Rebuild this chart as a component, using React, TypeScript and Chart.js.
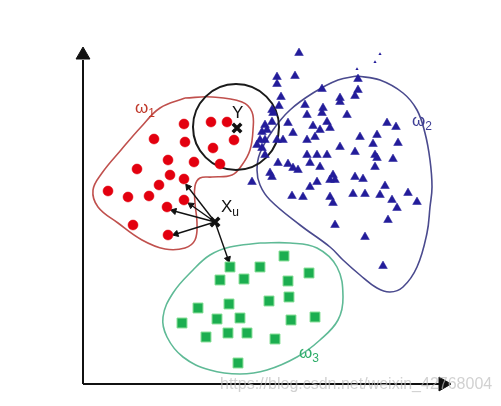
import React, { useEffect, useRef } from 'react';
import { Chart, registerables } from 'chart.js';
Chart.register(...registerables);

// ---- data (diagram coordinates) ----
const redPoints: number[][] = [
  [184,124],[211,122],[227,122],[154,139],[185,142],[234,140],[213,148],[168,160],[194,162],[220,164],
  [137,169],[170,175],[184,179],[159,185],[108,191],[128,197],[149,196],[184,200],[167,207],[133,225],[168,235],
];
const bluePoints: number[][] = [
  [299,53],[277,77],[295,76],[277,84],[322,89],[340,98],[355,96],[358,79],[358,90],[281,97],[279,106],[305,105],
  [323,108],[340,102],[273,113],[288,123],[307,115],[322,113],[327,122],[347,115],[387,123],[396,127],[313,126],
  [320,130],[330,128],[272,122],[267,130],[265,140],[277,140],[283,140],[293,133],[307,140],[315,137],[340,147],
  [360,137],[377,135],[398,143],[355,152],[373,144],[307,155],[317,155],[327,155],[375,155],[377,158],[393,159],
  [278,163],[288,164],[293,168],[298,170],[310,163],[320,167],[375,167],[270,173],[272,177],[252,182],[333,175],
  [335,180],[330,180],[355,177],[363,179],[310,187],[317,182],[385,186],[292,196],[303,197],[330,197],[333,203],
  [353,194],[365,194],[380,195],[392,200],[408,193],[417,202],[397,208],[388,220],[335,225],[365,237],[383,266],
  [260,140],[262,148],[262,132],[257,145],[265,155],[272,110],[265,125],
];
const blueSpecks: number[][] = [[380,54],[375,62],[357,69]];
const greenPoints: number[][] = [
  [230,267],[260,267],[284,256],[309,273],[220,280],[244,279],[288,281],[289,297],[269,301],[229,304],[198,308],
  [182,323],[217,319],[240,318],[291,320],[315,317],[206,337],[228,333],[247,333],[275,339],[238,363],
];
const redOutline: number[][] = [
  [185,98],[212,97],[242,102],[252,112],[253,130],[250,150],[242,165],[232,175],[212,177],[200,178],[195,186],
  [195,203],[197,223],[195,240],[185,248],[165,249],[142,240],[118,223],[98,207],[93,190],[102,173],[121,150],
  [141,127],[160,108],[185,98],
];
const blueOutline: number[][] = [
  [357,76],[380,80],[403,93],[417,110],[425,133],[430,160],[432,187],[430,207],[427,233],[417,267],[403,287],
  [390,292],[377,288],[360,275],[343,260],[330,247],[300,225],[270,200],[260,185],[257,170],[260,153],[273,130],
  [290,110],[313,93],[338,80],[357,76],
];
const greenOutline: number[][] = [
  [260,243],[290,243],[317,248],[337,267],[343,297],[338,320],[320,340],[297,357],[267,370],[240,374],[210,370],
  [183,357],[167,337],[163,317],[173,293],[193,270],[210,255],[230,247],[260,243],
];
const circleCenter: number[][] = [[236,127]];
const crossPoints: number[][] = [[237,128],[215,222]];
const arrowStart: number[] = [215,222];
const arrowEnds: number[][] = [[188,187],[191,205],[174,211],[176,234],[228,259]];
const yAxisLine: number[][] = [[83,384],[83,60]];
const xAxisLine: number[][] = [[83,384],[440,384]];
const labels: { text: string; sub: string; x: number; y: number; color: string }[] = [
  { text: 'ω', sub: '1', x: 135, y: 113, color: '#c0392b' },
  { text: 'ω', sub: '2', x: 412, y: 126, color: '#3d3d95' },
  { text: 'ω', sub: '3', x: 299, y: 358, color: '#2fae6a' },
  { text: 'Y', sub: '', x: 232, y: 118, color: '#111' },
  { text: 'X', sub: 'u', x: 221, y: 212, color: '#111' },
];
const watermark = 'https://blog.csdn.net/weixin_42768004';

const xy = (a: number[][]) => a.map(([x, y]) => ({ x, y }));

export default function App() {
  const ref = useRef<HTMLCanvasElement | null>(null);
  useEffect(() => {
    if (!ref.current) return;
    const line = (pts: number[][], color: string, width = 1.6) => ({
      data: xy(pts), showLine: true, tension: 0.4, pointRadius: 0, borderColor: color,
      borderWidth: width, fill: false, order: 5,
    });
    const arrows = arrowEnds.map(([ex, ey]) => {
      const rot = (Math.atan2(ey - arrowStart[1], ex - arrowStart[0]) * 180) / Math.PI + 90;
      return {
        data: xy([arrowStart, [ex, ey]]), showLine: true, borderColor: '#111', borderWidth: 1.4,
        pointStyle: 'triangle', pointRadius: [0, 3.6], pointRotation: [0, rot],
        backgroundColor: '#111', pointBorderColor: '#111', pointBorderWidth: 1, order: 2,
      };
    });
    const labelPlugin = {
      id: 'labels',
      afterDraw(chart: any) {
        const { ctx, scales } = chart;
        ctx.save();
        labels.forEach((l) => {
          const px = scales.x.getPixelForValue(l.x);
          const py = scales.y.getPixelForValue(l.y);
          ctx.fillStyle = l.color;
          ctx.textBaseline = 'alphabetic';
          ctx.font = '17px "Liberation Sans", Arial, sans-serif';
          ctx.fillText(l.text, px, py);
          const w = ctx.measureText(l.text).width;
          if (l.sub) {
            ctx.font = '12px "Liberation Sans", Arial, sans-serif';
            ctx.fillText(l.sub, px + w, py + 4);
          }
        });
        ctx.font = '16px "Liberation Sans", Arial, sans-serif';
        ctx.fillStyle = 'rgba(190,190,190,0.7)';
        ctx.textBaseline = 'middle';
        ctx.fillText(watermark, scales.x.getPixelForValue(220), scales.y.getPixelForValue(385));
        ctx.restore();
      },
    };
    const chart = new Chart(ref.current, {
      type: 'scatter',
      data: {
        datasets: [
          { data: xy(crossPoints), pointStyle: 'crossRot', pointRadius: 6, borderColor: '#111', pointBorderWidth: 3.5, order: 0 },
          { data: xy(redPoints), pointStyle: 'circle', pointRadius: 5, backgroundColor: '#e3000f', borderColor: '#e3000f', pointBorderWidth: 0.5, order: 1 },
          { data: xy(bluePoints), pointStyle: 'triangle', pointRadius: 5, backgroundColor: '#231c9a', borderColor: '#231c9a', pointBorderWidth: 0.5, order: 1 },
          { data: xy(blueSpecks), pointStyle: 'triangle', pointRadius: 1.8, backgroundColor: '#231c9a', borderColor: '#231c9a', pointBorderWidth: 0, order: 1 },
          { data: xy(greenPoints), pointStyle: 'rect', pointRadius: 7, backgroundColor: '#1cae50', borderColor: '#7fdc90', pointBorderWidth: 1, order: 1 },
          { data: xy(circleCenter), pointStyle: 'circle', pointRadius: 43, backgroundColor: 'rgba(0,0,0,0)', borderColor: '#1a1a1a', pointBorderWidth: 2, order: 3 },
          ...arrows,
          line(redOutline, '#c0504d'),
          line(blueOutline, '#4a4a8e'),
          line(greenOutline, '#5fba96'),
          { ...line(yAxisLine, '#111', 2), tension: 0 },
          { ...line(xAxisLine, '#111', 2), tension: 0 },
          { data: xy([[83, 55]]), pointStyle: 'triangle', pointRadius: 8, pointRotation: 0, backgroundColor: '#111', borderColor: '#111', order: 4 },
          { data: xy([[443, 384]]), pointStyle: 'triangle', pointRadius: 8, pointRotation: 90, backgroundColor: '#111', borderColor: '#111', order: 4 },
        ] as any,
      },
      options: {
        animation: false,
        responsive: false,
        maintainAspectRatio: false,
        layout: { padding: 0, autoPadding: false },
        plugins: { legend: { display: false }, tooltip: { enabled: false } },
        scales: {
          x: { type: 'linear', min: 0, max: 501, display: false },
          y: { type: 'linear', min: 0, max: 406, reverse: true, display: false },
        },
      } as any,
      plugins: [labelPlugin],
    });
    return () => chart.destroy();
  }, []);
  return (
    <div style={{ position: 'fixed', left: 0, top: 0, width: 501, height: 406, background: '#fff' }}>
      <canvas ref={ref} width={501} height={406} />
    </div>
  );
}
